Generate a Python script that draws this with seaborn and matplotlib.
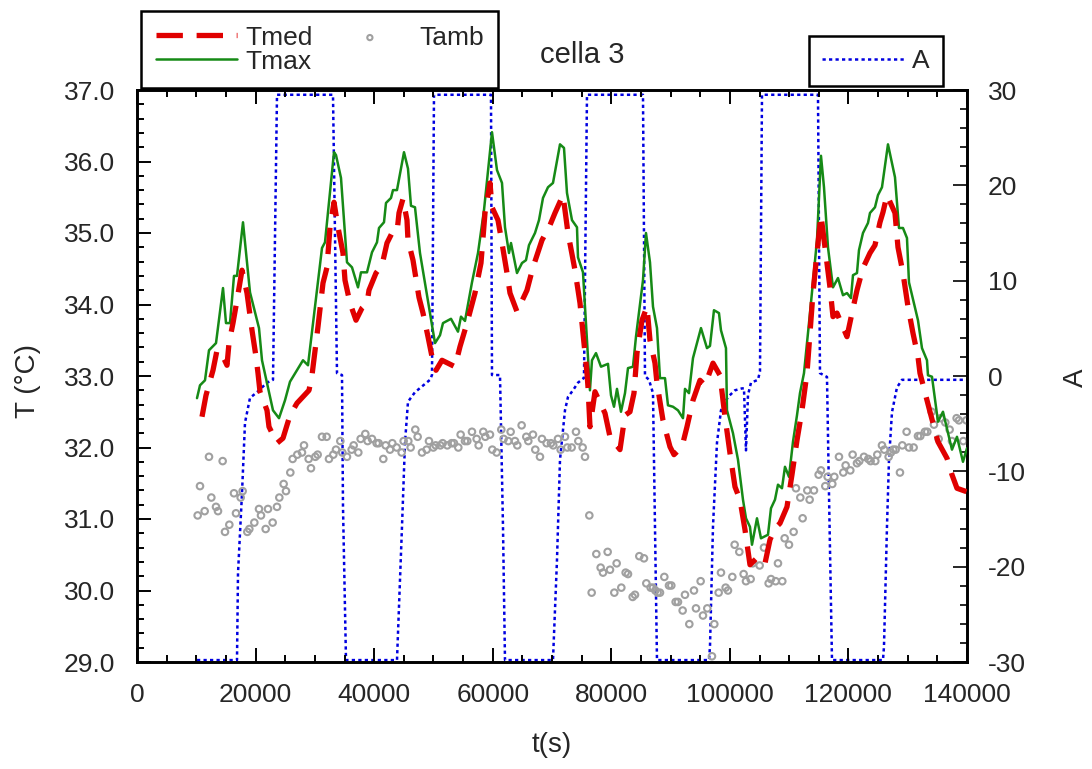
import matplotlib
matplotlib.use("Agg")
import matplotlib.pyplot as plt
from matplotlib.ticker import MultipleLocator, FuncFormatter
import seaborn as sns

# ---- data (time in s, temperatures in degC, A dimensionless) ----
tmax = [(10120, 32.69), (10626, 32.87), (11470, 32.94), (12144, 33.36), (13325, 33.46), (14506, 34.23),
        (15012, 33.74), (15686, 33.74), (16361, 34.40), (16867, 34.40), (17879, 35.15), (19060, 34.17),
        (20578, 33.67), (21084, 33.22), (22939, 32.52), (23951, 32.41), (24963, 32.66), (25807, 32.92),
        (27999, 33.22), (28843, 33.15), (31204, 34.79), (31710, 34.87), (33228, 36.13), (33565, 36.09),
        (34408, 35.77), (35421, 34.59), (36264, 34.52), (37276, 34.24), (37782, 34.45), (38794, 34.45),
        (39637, 34.73), (40481, 34.87), (40818, 35.07), (41661, 35.15), (41999, 35.42), (42842, 35.49),
        (43180, 35.60), (43854, 35.60), (45035, 36.13), (45709, 35.90), (46215, 35.38), (46890, 35.36),
        (47733, 34.72), (50263, 33.46), (51107, 33.57), (51613, 33.74), (52962, 33.80), (54143, 33.62),
        (54649, 33.83), (55324, 33.77), (56505, 34.31), (57517, 34.72), (58529, 35.32), (59878, 36.41),
        (60721, 35.88), (61565, 35.70), (62071, 35.08), (62745, 34.72), (63083, 34.86), (64095, 34.44),
        (64938, 34.58), (65613, 34.62), (66119, 34.83), (67131, 35.00), (67805, 35.18), (68480, 35.49),
        (69323, 35.64), (70167, 35.70), (71348, 36.24), (72022, 36.19), (72528, 35.56), (73371, 35.18),
        (74215, 35.08), (74383, 34.66), (75227, 34.45), (75564, 33.97), (76239, 33.04), (76400, 32.80),
        (76745, 33.22), (77420, 33.32), (78263, 33.13), (79444, 33.17), (79950, 32.73), (80456, 32.57),
        (80962, 32.82), (81637, 32.50), (82311, 32.76), (82817, 33.11), (83660, 33.13), (84166, 33.55),
        (85347, 34.34), (85853, 35.00), (86528, 34.59), (87034, 33.97), (87709, 33.67), (88214, 32.97),
        (89058, 32.97), (89564, 32.59), (90407, 32.57), (91250, 32.52), (92094, 32.41), (92431, 32.82),
        (93106, 32.76), (93779, 33.25), (95128, 33.67), (96140, 33.39), (96646, 33.42), (97321, 33.92),
        (98164, 33.88), (98501, 33.64), (99346, 33.39), (99514, 32.52), (100526, 32.20), (101370, 31.83),
        (102214, 31.27), (102720, 31.01), (103395, 30.89), (103732, 30.64), (104576, 31.01), (105250, 30.73),
        (106431, 30.78), (106937, 31.15), (107611, 31.27), (108117, 31.48), (108792, 31.43), (109298, 31.73),
        (109973, 31.59), (110648, 32.08), (111322, 32.45), (111828, 32.76), (112503, 33.04), (113515, 33.88),
        (114696, 34.90), (115370, 36.08), (115876, 35.64), (116551, 34.80), (117394, 34.24), (118238, 34.37),
        (119081, 34.13), (119756, 34.16), (120430, 34.09), (120768, 34.41), (121442, 34.44), (121780, 34.76),
        (122455, 35.00), (123298, 35.14), (123635, 35.28), (124479, 35.36), (124985, 35.53), (125660, 35.64),
        (126671, 36.24), (127852, 35.78), (128527, 35.07), (129200, 35.07), (129876, 34.93), (130213, 34.31),
        (131731, 33.78), (132406, 33.39), (133249, 33.22), (133418, 33.01), (134093, 32.99), (135105, 32.36),
        (135948, 32.50), (137466, 31.97), (138310, 32.15), (139322, 31.80), (140000, 31.99)]

tmed = [(10964, 32.43), (11638, 32.73), (12819, 33.08), (13494, 33.36), (14506, 33.27), (15180, 33.15),
        (15518, 33.46), (16192, 33.74), (16867, 34.06), (17710, 34.48), (18554, 34.16), (19397, 33.64),
        (20072, 33.27), (20409, 33.04), (20746, 32.78), (21927, 32.52), (22264, 32.29), (23614, 32.06),
        (24626, 32.13), (25807, 32.45), (26987, 32.62), (29011, 32.80), (29517, 33.01), (30529, 33.69),
        (31372, 34.30), (32047, 34.52), (32553, 35.08), (33228, 35.43), (33903, 35.08), (34746, 34.72),
        (35083, 34.34), (35927, 34.02), (36939, 33.78), (37951, 33.95), (38794, 34.02), (39131, 34.20),
        (40312, 34.44), (41324, 34.55), (42168, 34.86), (43011, 35.00), (43854, 35.01), (44192, 35.28),
        (44866, 35.48), (45541, 35.18), (45709, 34.90), (46553, 34.62), (47565, 34.10), (48240, 33.88),
        (49083, 33.55), (49758, 33.27), (50432, 33.08), (51444, 33.22), (53637, 33.13), (54480, 33.41),
        (55661, 33.74), (57010, 34.16), (58022, 34.58), (58697, 35.28), (59540, 35.70), (59878, 35.36),
        (60890, 35.18), (61565, 34.86), (62408, 34.44), (62914, 34.16), (64095, 33.90), (65781, 34.20),
        (66793, 34.52), (68311, 34.90), (69661, 35.11), (70504, 35.28), (71853, 35.53), (72697, 35.00),
        (73877, 34.48), (74721, 34.02), (75227, 33.60), (75901, 33.04), (76070, 32.85), (76407, 32.29),
        (77250, 32.78), (78937, 32.48), (79781, 32.15), (81467, 31.97), (82311, 32.45), (83154, 32.50),
        (83829, 32.76), (84335, 33.32), (85178, 33.78), (86021, 33.97), (86527, 33.50), (87371, 33.18),
        (87708, 32.90), (88720, 32.38), (89901, 32.01), (90576, 31.90), (91925, 32.01), (92769, 32.29),
        (93781, 32.66), (94962, 32.94), (95805, 32.87), (97155, 33.18), (98336, 33.01), (99179, 32.43),
        (100023, 31.92), (100866, 31.45), (101709, 31.27), (102552, 30.85), (103396, 30.36), (104745, 30.47),
        (105926, 30.38), (106769, 30.71), (107612, 30.87), (108455, 30.94), (109636, 31.17), (110479, 31.62),
        (111322, 32.10), (112166, 32.52), (113009, 33.04), (114021, 34.16), (114696, 34.72), (115370, 35.25),
        (116045, 34.80), (116888, 34.24), (117394, 33.83), (118069, 33.88), (119756, 33.55), (120599, 33.88),
        (121442, 34.20), (122455, 34.51), (123636, 34.72), (124479, 34.83), (125322, 35.15), (125828, 35.29),
        (126503, 35.53), (127852, 35.28), (128358, 34.80), (129201, 34.44), (130044, 33.97), (130888, 33.60),
        (131731, 33.27), (132068, 33.04), (133755, 32.50), (135104, 32.08), (136622, 31.85), (137466, 31.62),
        (138309, 31.43), (140000, 31.38)]

tamb = [(10232, 31.05), (10625, 31.46), (11412, 31.11), (12143, 31.87), (12537, 31.30), (13324, 31.17),
        (13661, 31.11), (14448, 31.81), (14842, 30.82), (15573, 30.92), (16360, 31.36), (16697, 31.08),
        (17484, 31.30), (17821, 31.39), (18608, 30.82), (18946, 30.86), (19789, 30.95), (20576, 31.14),
        (20913, 31.05), (21701, 30.86), (22094, 31.14), (22881, 30.95), (23612, 31.17), (24006, 31.30),
        (24736, 31.49), (25130, 31.39), (25861, 31.65), (26254, 31.84), (27041, 31.90), (27829, 31.93),
        (28166, 32.03), (28953, 31.84), (29346, 31.71), (30077, 31.87), (30471, 31.90), (31202, 32.15),
        (31989, 32.15), (32382, 31.84), (33113, 31.90), (33563, 31.97), (34294, 32.09), (34631, 31.93),
        (35418, 31.87), (36205, 31.97), (36543, 32.03), (37330, 31.93), (37723, 32.12), (38510, 32.19),
        (38904, 32.09), (39635, 32.12), (40422, 32.06), (40759, 32.06), (41546, 31.84), (41940, 32.03),
        (42671, 31.97), (43064, 32.06), (43795, 32.00), (44638, 31.93), (44976, 32.09), (45763, 32.09),
        (46156, 32.00), (46943, 32.25), (47337, 32.15), (48068, 31.93), (48855, 31.97), (49248, 32.09),
        (49979, 32.00), (50373, 32.03), (51160, 32.03), (51553, 32.06), (52340, 32.03), (53071, 32.06),
        (53465, 32.06), (54196, 32.00), (54589, 32.18), (55320, 32.09), (55714, 32.09), (56501, 32.22),
        (57288, 32.12), (57625, 32.03), (58412, 32.22), (58750, 32.15), (59537, 32.18), (59930, 31.97),
        (60661, 31.93), (61448, 32.25), (61842, 32.12), (62629, 32.09), (63022, 32.22), (63753, 32.09),
        (64147, 32.03), (64878, 32.31), (65665, 32.15), (66002, 32.09), (66789, 32.18), (67183, 31.97),
        (67970, 31.87), (68307, 32.12), (69094, 32.06), (69825, 32.06), (70218, 32.03), (71005, 32.12),
        (71460, 31.97), (72191, 32.15), (72584, 32.00), (73315, 32.00), (74046, 32.22), (74440, 32.09),
        (75171, 32.00), (75564, 31.87), (76295, 31.05), (76689, 29.97), (77476, 30.51), (78206, 30.32),
        (78600, 30.25), (79387, 30.54), (79781, 30.29), (80511, 29.97), (80905, 30.38), (81692, 30.04),
        (82423, 30.25), (82816, 30.23), (83604, 29.91), (83997, 29.94), (84728, 30.48), (85515, 30.45),
        (85909, 30.10), (86639, 30.04), (87033, 30.04), (87427, 30.00), (87820, 29.97), (88214, 29.97),
        (88944, 30.19), (89732, 30.07), (90125, 30.07), (90856, 29.84), (91249, 29.84), (92037, 29.72),
        (92430, 29.94), (93161, 29.53), (93948, 30.00), (94285, 29.75), (95072, 30.13), (95466, 29.65),
        (96197, 29.75), (96984, 29.08), (97377, 29.53), (98108, 29.97), (98502, 30.25), (99289, 30.04),
        (99682, 30.00), (100413, 30.19), (100807, 30.64), (101594, 30.54), (102325, 30.23), (102718, 30.13),
        (103505, 30.16), (103843, 30.38), (105023, 30.35), (105754, 30.60), (106541, 30.10), (106935, 30.16),
        (107722, 30.13), (108115, 30.38), (108846, 30.13), (109240, 30.73), (109971, 30.64), (110758, 30.82),
        (111151, 31.43), (111882, 31.30), (112276, 31.01), (113063, 31.40), (113456, 31.27), (114187, 31.40),
        (114974, 31.62), (115368, 31.68), (116099, 31.46), (116492, 31.59), (117279, 31.49), (117617, 31.59),
        (118404, 31.87), (119135, 31.65), (119528, 31.75), (120315, 31.68), (120709, 31.90), (121440, 31.78),
        (121833, 31.81), (122620, 31.87), (123351, 31.84), (123745, 31.81), (124532, 31.81), (124869, 31.90),
        (125656, 32.03), (126050, 31.97), (126781, 31.87), (127174, 31.93), (127568, 31.97), (127961, 31.97),
        (128692, 31.65), (129086, 32.03), (129816, 32.22), (130210, 32.00), (130997, 32.00), (131728, 32.16),
        (132121, 32.16), (132909, 32.22), (133302, 32.22), (134033, 32.50), (134426, 32.32), (135214, 32.12),
        (135551, 32.41), (136338, 32.35), (137069, 32.25), (137462, 32.09), (138249, 32.41), (138643, 32.38),
        (139374, 32.09), (139900, 32.38)]

a_series = [(10120, -29.8), (16867, -29.8), (17036, -20.7), (17710, -12.3), (18216, -4.9), (19060, -2.3),
            (20240, -1.7), (21927, -0.7), (22939, -0.4), (23614, 29.5), (33059, 29.5), (33734, 0.3),
            (34577, 0.1), (34746, -13.7), (35252, -29.8), (43854, -29.8), (44697, -15.8), (45203, -7.0),
            (45709, -2.7), (46890, -1.7), (49420, -0.4), (49757, 0.1), (50094, 29.5), (59709, 29.5),
            (59877, 0.1), (61227, 0.1), (61733, -15.8), (62070, -29.8), (70166, -29.8), (70841, -19.3),
            (71347, -8.8), (72190, -3.6), (72696, -2.2), (73540, -1.5), (74383, -0.7), (75395, -0.2),
            (75901, 29.5), (85347, 29.5), (85684, 0.0), (86359, -0.4), (87034, -1.8), (87371, -15.8),
            (87708, -29.8), (96479, -29.8), (96648, -28.4), (97154, -15.8), (97829, -7.0), (98503, -3.6),
            (99684, -2.2), (100865, -1.5), (102046, -1.3), (102383, -1.3), (102720, -7.8), (103058, -2.0),
            (103564, -0.7), (104744, -0.4), (105082, 0.5), (105419, 29.5), (114865, 29.5), (115202, 0.3),
            (116383, -0.1), (116720, -12.3), (117226, -29.8), (125828, -29.8), (125996, -28.4), (126502, -15.8),
            (126840, -8.8), (127346, -3.8), (128189, -1.2), (129032, -0.4), (140000, -0.4)]

x_ticks = [0, 20000, 40000, 60000, 80000, 100000, 120000, 140000]

tmax_t, tmax_v = zip(*tmax)
tmed_t, tmed_v = zip(*tmed)
tamb_t, tamb_v = zip(*tamb)
a_t, a_v = zip(*a_series)

# ---- style ----
sns.set_style("white")
plt.rcParams['font.family'] = ['Liberation Sans', 'DejaVu Sans']
plt.rcParams['axes.unicode_minus'] = False

W, H = 1092, 769
fig = plt.figure(figsize=(W / 100, H / 100), dpi=100)
ax = fig.add_axes([137 / W, 1 - 662 / H, 830 / W, 572 / H])
ax2 = ax.twinx()

sns.lineplot(x=list(a_t), y=list(a_v), ax=ax2, color='#0000e0', linewidth=1.8,
             linestyle=(0, (1.3, 1.3)), label='A', estimator=None, sort=False)
sns.scatterplot(x=list(tamb_t), y=list(tamb_v), ax=ax, color='#a0a0a0', facecolor='none',
                edgecolor='#a0a0a0', s=22, linewidth=1.5, label='Tamb', zorder=2)
sns.lineplot(x=list(tmax_t), y=list(tmax_v), ax=ax, color='#168a16', linewidth=1.8,
             label='Tmax', estimator=None, sort=False, zorder=3)
sns.lineplot(x=list(tmed_t), y=list(tmed_v), ax=ax, color='#e00000', linewidth=3.8,
             linestyle=(0, (5, 2.6)), label='Tmed', estimator=None, sort=False, zorder=4)

ax.set_zorder(ax2.get_zorder() + 1)
ax.patch.set_visible(False)

for a in (ax, ax2):
    if a.get_legend() is not None:
        a.get_legend().remove()

ax.set_xlim(0, 140000)
ax.set_ylim(29, 37)
ax2.set_ylim(-30, 30)

ax.set_xticks(x_ticks)
ax.xaxis.set_minor_locator(MultipleLocator(5000))
ax.xaxis.set_major_formatter(FuncFormatter(lambda v, p: f"{int(round(v))}"))
ax.yaxis.set_major_locator(MultipleLocator(1))
ax.yaxis.set_minor_locator(MultipleLocator(0.2))
ax.yaxis.set_major_formatter(FuncFormatter(lambda v, p: f"{v:.1f}"))
ax2.yaxis.set_major_locator(MultipleLocator(10))
ax2.yaxis.set_minor_locator(MultipleLocator(2))
ax2.yaxis.set_major_formatter(FuncFormatter(lambda v, p: f"{int(round(v))}"))

ax.tick_params(which='both', direction='in', top=True, bottom=True, left=True, right=False,
               width=1.4, labelsize=19, color='black')
ax.tick_params(which='major', length=10)
ax.tick_params(which='minor', length=5)
ax.tick_params(axis='x', pad=15)
ax.tick_params(axis='y', pad=16)
ax2.tick_params(which='both', direction='in', right=True, left=False, width=1.4,
                labelsize=19, pad=15)
ax2.tick_params(which='major', length=10)
ax2.tick_params(which='minor', length=5)

for a in (ax, ax2):
    for sp in a.spines.values():
        sp.set_linewidth(1.9)
        sp.set_color('black')

ax.set_xlabel('t(s)', fontsize=20)
ax.xaxis.set_label_coords(0.5, (662 - 745) / 572)
ax.xaxis.label.set_va('center')
ax.set_ylabel('T (°C)', fontsize=20)
ax.yaxis.set_label_coords((28 - 137) / 830, (662 - 381) / 572)
ax.yaxis.label.set_va('center')
ax2.set_ylabel('A', fontsize=20, rotation=90)
ax2.yaxis.set_label_coords((1076 - 137) / 830, (662 - 378) / 572)
ax2.yaxis.label.set_va('center')

fig.text(582 / W, 1 - 55 / H, 'cella 3', ha='center', va='center', fontsize=21)

# ---- legends ----
h1, l1 = ax.get_legend_handles_labels()
hd = dict(zip(l1, h1))
h2, l2 = ax2.get_legend_handles_labels()

leg1 = fig.legend([hd['Tmed'], hd['Tmax'], hd['Tamb']], ['Tmed', 'Tmax', 'Tamb'], ncol=2,
                  loc='upper left', bbox_to_anchor=(141 / W, 1 - 11 / H), fontsize=19,
                  handlelength=3.1, handletextpad=0.32, columnspacing=0.6, labelspacing=0.0,
                  borderpad=0.55, borderaxespad=0, fancybox=False, frameon=True,
                  edgecolor='black', framealpha=1, markerscale=0.8)
leg1.get_frame().set_linewidth(1.8)

leg2 = fig.legend(h2, ['A'], loc='upper left', bbox_to_anchor=(809 / W, 1 - 36 / H), fontsize=19,
                  handlelength=3.1, handletextpad=0.32, borderpad=0.5, borderaxespad=0,
                  fancybox=False, frameon=True, edgecolor='black', framealpha=1)
leg2.get_frame().set_linewidth(1.8)

fig.savefig('out.png', dpi=100)
